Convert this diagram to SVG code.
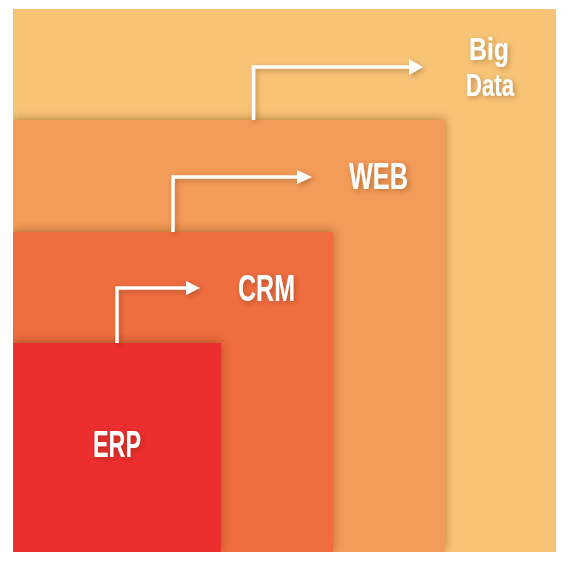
<svg xmlns="http://www.w3.org/2000/svg" width="568" height="565" viewBox="0 0 568 565">
  <defs>
    <style>
      .lbl { font-family: "Liberation Sans", Arial, sans-serif; font-weight: bold; font-size: 36px; fill: #ffffff; text-anchor: middle; }
      .lbl-sm { font-size: 32px; }
      .conn { fill: none; stroke: #ffffff; stroke-width: 3.5; stroke-linejoin: miter; }
      .head { fill: #ffffff; }
    </style>
    <clipPath id="frame">
      <rect x="13" y="9" width="543" height="543"/>
    </clipPath>
    <filter id="boxShadow" x="-10%" y="-10%" width="120%" height="120%">
      <feDropShadow dx="0" dy="-1" stdDeviation="5" flood-color="#5a2a00" flood-opacity="0.45"/>
    </filter>
    <filter id="softShadow" x="-20%" y="-30%" width="140%" height="160%">
      <feDropShadow dx="2" dy="2" stdDeviation="2.5" flood-color="#5a2a00" flood-opacity="0.35"/>
    </filter>
  </defs>

  <rect x="0" y="0" width="568" height="565" fill="#ffffff"/>

  <g clip-path="url(#frame)">
    <g id="node-bigdata">
      <rect x="13" y="9" width="543" height="543" fill="#F7C476"/>
      <text class="lbl lbl-sm" x="489" y="60" textLength="40" lengthAdjust="spacingAndGlyphs" filter="url(#softShadow)">Big</text>
      <text class="lbl lbl-sm" x="490" y="96" textLength="48" lengthAdjust="spacingAndGlyphs" filter="url(#softShadow)">Data</text>
    </g>
    <g id="node-web">
      <rect x="13" y="120" width="432" height="432" fill="#F39B59" filter="url(#boxShadow)"/>
      <text class="lbl" x="378.5" y="189" textLength="59" lengthAdjust="spacingAndGlyphs" filter="url(#softShadow)">WEB</text>
    </g>
    <g id="node-crm">
      <rect x="13" y="232" width="320" height="320" fill="#EF6D3F" filter="url(#boxShadow)"/>
      <text class="lbl" x="266.5" y="301" textLength="57" lengthAdjust="spacingAndGlyphs" filter="url(#softShadow)">CRM</text>
    </g>
    <g id="node-erp">
      <rect x="13" y="343" width="208" height="209" fill="#EC2F2F" filter="url(#boxShadow)"/>
      <text class="lbl" x="117" y="457" textLength="48" lengthAdjust="spacingAndGlyphs" filter="url(#softShadow)">ERP</text>
    </g>

    <g id="connectors" filter="url(#softShadow)">
      <g id="conn-web-bigdata">
        <path class="conn" d="M253.5 120 V67 H411"/>
        <polygon class="head" points="409,59 423,67 409,75"/>
      </g>
      <g id="conn-crm-web">
        <path class="conn" d="M173 232 V177 H299"/>
        <polygon class="head" points="297,170 312,177 297,184"/>
      </g>
      <g id="conn-erp-crm">
        <path class="conn" d="M117 343 V288 H188"/>
        <polygon class="head" points="186,281 200,288 186,295"/>
      </g>
    </g>
  </g>
</svg>
